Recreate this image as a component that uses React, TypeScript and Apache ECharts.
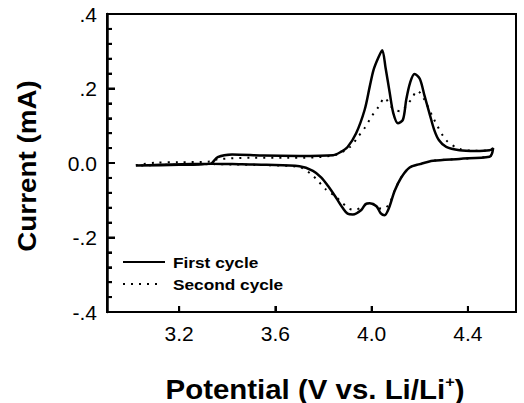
import React, { useEffect, useRef } from "react";
import * as echarts from "echarts";

// First cycle: anodic sweep (3.0 -> 4.5 V) then cathodic return
const firstCycleV = [
  3.02, 3.2, 3.33, 3.36, 3.42, 3.55, 3.7, 3.84, 3.87, 3.9, 3.935, 3.971, 3.992, 4.008, 4.028, 4.044,
  4.058, 4.075, 4.09, 4.109, 4.13, 4.144, 4.16, 4.178, 4.2, 4.22, 4.24, 4.26, 4.28, 4.31, 4.365,
  4.43, 4.49, 4.505, 4.5,
  4.49, 4.365, 4.255, 4.2, 4.158, 4.123, 4.095, 4.072, 4.054, 4.038, 4.02, 3.992, 3.975, 3.957,
  3.922, 3.9, 3.88, 3.853, 3.819, 3.791, 3.756, 3.7, 3.563, 3.42, 3.34, 3.02,
];
const firstCycleI = [
  -0.007, -0.005, -0.002, 0.016, 0.023, 0.02, 0.019, 0.021, 0.029, 0.043, 0.079, 0.143, 0.205,
  0.25, 0.283, 0.303, 0.255, 0.189, 0.134, 0.107, 0.116, 0.171, 0.216, 0.239, 0.226, 0.18, 0.134,
  0.089, 0.061, 0.043, 0.034, 0.032, 0.034, 0.04, 0.025,
  0.017, 0.011, 0.006, -0.003, -0.012, -0.039, -0.076, -0.121, -0.14, -0.135, -0.116, -0.108,
  -0.11, -0.126, -0.138, -0.136, -0.121, -0.094, -0.062, -0.039, -0.021, -0.009, -0.005, -0.003,
  -0.002, -0.007,
];

// Second cycle
const secondCycleV = [
  3.02, 3.1, 3.2, 3.33, 3.36, 3.5, 3.65, 3.84, 3.91, 3.943, 3.97, 4.0, 4.03, 4.054, 4.08, 4.1,
  4.12, 4.14, 4.165, 4.19, 4.215, 4.26, 4.31, 4.365, 4.43, 4.49, 4.505, 4.5,
  4.49, 4.365, 4.255, 4.2, 4.158, 4.123, 4.095, 4.075, 4.058, 4.04, 4.02, 3.998, 3.975, 3.955,
  3.93, 3.905, 3.88, 3.85, 3.81, 3.777, 3.745, 3.7, 3.563, 3.42, 3.34, 3.02,
];
const secondCycleI = [
  -0.006, 0.001, 0.002, 0.004, 0.01, 0.014, 0.014, 0.02, 0.043, 0.07, 0.093, 0.125, 0.152, 0.175,
  0.152, 0.142, 0.139, 0.15, 0.171, 0.194, 0.175, 0.116, 0.061, 0.038, 0.033, 0.034, 0.038, 0.025,
  0.017, 0.011, 0.006, -0.003, -0.012, -0.039, -0.075, -0.108, -0.12, -0.123, -0.115, -0.11,
  -0.112, -0.12, -0.126, -0.122, -0.108, -0.09, -0.071, -0.048, -0.028, -0.011, -0.006, -0.004,
  -0.003, -0.007,
];

const seriesNames = ["First cycle", "Second cycle"];
const xTickValues = [3.2, 3.6, 4.0, 4.4];
const yMajorTickValues = [-0.4, -0.2, 0, 0.2, 0.4];
const yMinorTickValues = [
  -0.36, -0.32, -0.28, -0.24, -0.16, -0.12, -0.08, -0.04, 0.04, 0.08, 0.12, 0.16, 0.24, 0.28,
  0.32, 0.36,
];
const xMin = 2.9;
const xMax = 4.6;
const yMin = -0.4;
const yMax = 0.4;
const xAxisTitle = "Potential (V vs. Li/Li";
const yAxisTitle = "Current (mA)";

const FONT = "'Liberation Sans', Arial, Helvetica, sans-serif";

function yLabel(v: number): string {
  const r = Math.round(v * 10) / 10;
  if (r === 0) return "0.0";
  const s = Math.abs(r).toFixed(1).replace(/^0/, "");
  return (r < 0 ? "-" : "") + s;
}

export default function App() {
  const ref = useRef<HTMLDivElement>(null);
  useEffect(() => {
    const chart = echarts.init(ref.current!, null, { renderer: "svg" });
    const pair = (xs: number[], ys: number[]) => xs.map((x, i) => [x, ys[i]]);
    const baseGraphic: any[] = [
      {
        type: "line",
        shape: { x1: 123, y1: 262, x2: 165, y2: 262 },
        style: { stroke: "#000", lineWidth: 2 },
      },
      {
        type: "line",
        shape: { x1: 123, y1: 284, x2: 163, y2: 284 },
        style: { stroke: "#000", lineWidth: 2, lineDash: [2, 6] },
      },
      {
        type: "text",
        x: 173,
        y: 262,
        scaleX: 1.15,
        style: {
          text: seriesNames[0],
          fontFamily: FONT,
          fontSize: 15,
          fontWeight: "bold",
          fill: "#000",
          textAlign: "left",
          textVerticalAlign: "middle",
        },
      },
      {
        type: "text",
        x: 173,
        y: 284,
        scaleX: 1.15,
        style: {
          text: seriesNames[1],
          fontFamily: FONT,
          fontSize: 15,
          fontWeight: "bold",
          fill: "#000",
          textAlign: "left",
          textVerticalAlign: "middle",
        },
      },
      {
        type: "text",
        x: 315,
        y: 389,
        scaleX: 1.09,
        style: {
          text: "{m|" + xAxisTitle + "}{s|+}{m|)}",
          fill: "#000",
          textAlign: "center",
          textVerticalAlign: "middle",
          rich: {
            m: { fontFamily: FONT, fontSize: 27, fontWeight: "bold", lineHeight: 30, verticalAlign: "middle", fill: "#000" },
            s: { fontFamily: FONT, fontSize: 15, fontWeight: "bold", lineHeight: 16, verticalAlign: "top", fill: "#000" },
          },
        },
      },
      {
        type: "text",
        x: 27,
        y: 166,
        rotation: Math.PI / 2,
        scaleX: 1.07,
        style: {
          text: yAxisTitle,
          fontFamily: FONT,
          fontSize: 26,
          fontWeight: "bold",
          fill: "#000",
          textAlign: "center",
          textVerticalAlign: "middle",
        },
      },
    ];
    chart.setOption({
      animation: false,
      backgroundColor: "#fff",
      grid: {
        left: 107,
        right: 8,
        top: 14,
        bottom: 91,
        show: true,
        borderColor: "#000",
        borderWidth: 2,
      },
      xAxis: {
        type: "value",
        min: xMin,
        max: xMax,
        axisLine: { show: true, onZero: false, lineStyle: { color: "#000", width: 2 } },
        axisTick: {
          show: true,
          inside: true,
          length: 6,
          customValues: xTickValues,
          lineStyle: { color: "#000", width: 2 },
        },
        axisLabel: {
          customValues: xTickValues,
          formatter: (v: number) => v.toFixed(1),
          color: "#000",
          fontSize: 21,
          fontFamily: FONT,
          margin: 11,
        },
        splitLine: { show: false },
      },
      yAxis: {
        type: "value",
        min: yMin,
        max: yMax,
        interval: 0.2,
        axisLine: { show: true, onZero: false, lineStyle: { color: "#000", width: 2.5 } },
        axisTick: { show: true, inside: true, length: 8, lineStyle: { color: "#000", width: 2 } },
        minorTick: { show: true, splitNumber: 5, length: 5, lineStyle: { color: "#000", width: 2 } },
        axisLabel: {
          formatter: (v: number) => yLabel(v),
          color: "#000",
          fontSize: 21,
          fontFamily: FONT,
          margin: 10,
        },
        splitLine: { show: false },
        minorSplitLine: { show: false },
      },
      series: [
        {
          name: seriesNames[0],
          type: "line",
          data: pair(firstCycleV, firstCycleI),
          showSymbol: false,
          symbol: "none",
          smooth: 0.3,
          lineStyle: { color: "#000", width: 2.5 },
          z: 3,
        },
        {
          name: seriesNames[1],
          type: "line",
          data: pair(secondCycleV, secondCycleI),
          showSymbol: false,
          symbol: "none",
          smooth: 0.3,
          lineStyle: { color: "#000", width: 2, type: [2, 6] },
          z: 2,
        },
      ],
      graphic: baseGraphic,
    });

    // Tick marks placed through the chart's own scales
    const tickGraphic: any[] = [];
    const addTick = (x: number, y: number, dx: number, dy: number) => {
      const p = chart.convertToPixel({ gridIndex: 0 }, [x, y]) as number[];
      if (!p || isNaN(p[0]) || isNaN(p[1])) return;
      tickGraphic.push({
        type: "line",
        z: 100,
        shape: { x1: p[0], y1: p[1], x2: p[0] + dx, y2: p[1] + dy },
        style: { stroke: "#000", lineWidth: 2 },
      });
    };
    yMajorTickValues.forEach((v) => addTick(xMin, v, 8, 0));
    yMinorTickValues.forEach((v) => addTick(xMin, v, 5, 0));
    xTickValues.forEach((v) => addTick(v, yMin, 0, -6));
    chart.setOption({ graphic: baseGraphic.concat(tickGraphic) });

    return () => chart.dispose();
  }, []);
  return <div ref={ref} style={{ position: "fixed", left: 0, top: 0, width: 524, height: 403 }} />;
}
